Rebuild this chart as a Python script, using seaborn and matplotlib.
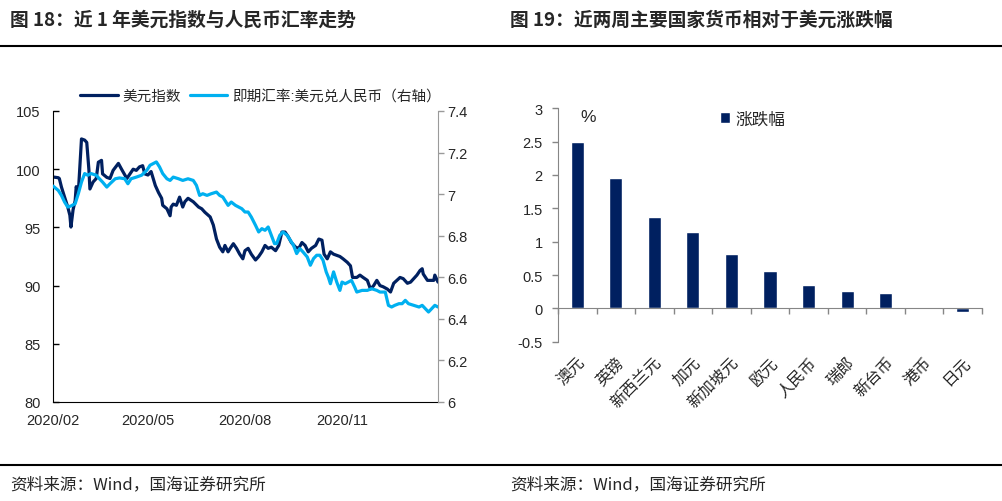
import numpy as np
import pandas as pd
import matplotlib
matplotlib.use("Agg")
import matplotlib.pyplot as plt
import matplotlib.dates as mdates
from matplotlib.lines import Line2D
from matplotlib.ticker import FuncFormatter, FixedLocator
import seaborn as sns

sns.set_style("white")
plt.rcParams['font.family'] = ['Liberation Sans', 'Noto Sans CJK SC', 'DejaVu Sans']
plt.rcParams['axes.unicode_minus'] = False

# --- left chart: DXY and USD/CNY spot ---
dxy_dates = ["2020-02-20", "2020-02-25", "2020-02-26", "2020-02-28", "2020-03-02", "2020-03-05", "2020-03-07", "2020-03-08", "2020-03-10", "2020-03-12",
             "2020-03-13", "2020-03-15", "2020-03-16", "2020-03-18", "2020-03-21", "2020-03-23", "2020-03-25", "2020-03-26", "2020-03-29", "2020-04-01",
             "2020-04-03", "2020-04-06", "2020-04-07", "2020-04-11", "2020-04-14", "2020-04-17", "2020-04-22", "2020-04-25", "2020-04-30", "2020-05-03",
             "2020-05-06", "2020-05-09", "2020-05-12", "2020-05-15", "2020-05-17", "2020-05-20", "2020-05-23", "2020-05-27", "2020-05-30", "2020-06-02",
             "2020-06-03", "2020-06-07", "2020-06-10", "2020-06-11", "2020-06-13", "2020-06-16", "2020-06-19", "2020-06-22", "2020-06-24", "2020-06-27",
             "2020-07-02", "2020-07-07", "2020-07-10", "2020-07-13", "2020-07-18", "2020-07-21", "2020-07-24", "2020-07-27", "2020-07-30", "2020-08-01",
             "2020-08-04", "2020-08-06", "2020-08-09", "2020-08-12", "2020-08-15", "2020-08-18", "2020-08-20", "2020-08-23", "2020-08-26", "2020-08-30",
             "2020-09-02", "2020-09-05", "2020-09-08", "2020-09-11", "2020-09-14", "2020-09-18", "2020-09-21", "2020-09-24", "2020-09-27", "2020-09-30",
             "2020-10-03", "2020-10-07", "2020-10-10", "2020-10-13", "2020-10-16", "2020-10-19", "2020-10-22", "2020-10-26", "2020-10-29", "2020-11-01",
             "2020-11-03", "2020-11-06", "2020-11-09", "2020-11-12", "2020-11-15", "2020-11-18", "2020-11-21", "2020-11-25", "2020-11-28", "2020-11-30",
             "2020-12-04", "2020-12-07", "2020-12-10", "2020-12-14", "2020-12-17", "2020-12-20", "2020-12-23", "2020-12-26", "2020-12-29", "2021-01-02",
             "2021-01-05", "2021-01-08", "2021-01-11", "2021-01-14", "2021-01-17", "2021-01-21", "2021-01-24", "2021-01-27", "2021-01-30", "2021-02-02",
             "2021-02-04", "2021-02-05", "2021-02-09", "2021-02-12", "2021-02-15", "2021-02-16", "2021-02-19"]
dxy_values = [99.33, 99.27, 99.2, 98.47, 97.6, 96.75, 96.04, 95.03, 96.5, 97.3,
              98.5, 98.0, 99.5, 102.6, 102.5, 102.3, 100.0, 98.3, 98.9, 99.2,
              100.6, 100.76, 99.6, 99.3, 99.2, 99.9, 100.5, 100.0, 99.2, 99.6,
              100.0, 99.9, 100.2, 100.3, 99.6, 99.5, 99.8, 98.6, 98.0, 97.5,
              96.9, 96.6, 96.0, 96.75, 97.0, 96.9, 97.6, 96.75, 97.2, 97.5,
              97.2, 96.75, 96.6, 96.3, 95.9, 95.2, 94.0, 93.3, 92.9, 93.45,
              92.9, 93.2, 93.6, 93.2, 92.7, 92.3, 93.0, 93.2, 92.7, 92.2,
              92.5, 92.9, 93.45, 93.2, 93.3, 93.0, 93.45, 94.6, 94.6, 94.2,
              93.7, 93.3, 93.2, 93.7, 93.45, 92.9, 93.2, 93.45, 94.0, 93.9,
              92.7, 92.3, 92.9, 92.7, 92.6, 92.5, 92.3, 92.0, 91.7, 90.7,
              90.7, 90.9, 90.7, 90.45, 89.7, 90.0, 90.45, 90.0, 89.9, 89.7,
              89.45, 90.2, 90.45, 90.7, 90.6, 90.2, 90.3, 90.6, 90.9, 91.3,
              91.45, 91.0, 90.45, 90.45, 90.45, 90.9, 90.3]

cny_dates = ["2020-02-20", "2020-02-25", "2020-02-28", "2020-03-02", "2020-03-05", "2020-03-08", "2020-03-12", "2020-03-15", "2020-03-18", "2020-03-21",
             "2020-03-24", "2020-03-27", "2020-04-01", "2020-04-04", "2020-04-07", "2020-04-11", "2020-04-14", "2020-04-19", "2020-04-23", "2020-04-28",
             "2020-05-01", "2020-05-04", "2020-05-09", "2020-05-14", "2020-05-19", "2020-05-22", "2020-05-25", "2020-05-28", "2020-05-31", "2020-06-03",
             "2020-06-07", "2020-06-10", "2020-06-13", "2020-06-18", "2020-06-22", "2020-06-27", "2020-07-02", "2020-07-05", "2020-07-08", "2020-07-11",
             "2020-07-15", "2020-07-19", "2020-07-24", "2020-07-27", "2020-07-30", "2020-08-04", "2020-08-07", "2020-08-11", "2020-08-14", "2020-08-17",
             "2020-08-20", "2020-08-23", "2020-08-26", "2020-08-30", "2020-09-02", "2020-09-05", "2020-09-08", "2020-09-11", "2020-09-14", "2020-09-17",
             "2020-09-19", "2020-09-22", "2020-09-25", "2020-09-29", "2020-10-02", "2020-10-05", "2020-10-08", "2020-10-11", "2020-10-14", "2020-10-18",
             "2020-10-21", "2020-10-24", "2020-10-27", "2020-10-30", "2020-11-02", "2020-11-05", "2020-11-07", "2020-11-09", "2020-11-12", "2020-11-15",
             "2020-11-18", "2020-11-20", "2020-11-23", "2020-11-26", "2020-11-29", "2020-12-02", "2020-12-04", "2020-12-09", "2020-12-14", "2020-12-18",
             "2020-12-23", "2020-12-26", "2020-12-31", "2021-01-03", "2021-01-06", "2021-01-09", "2021-01-13", "2021-01-16", "2021-01-19", "2021-01-22",
             "2021-01-27", "2021-02-01", "2021-02-04", "2021-02-07", "2021-02-10", "2021-02-13", "2021-02-16", "2021-02-19"]
cny_values = [7.039, 7.018, 6.994, 6.962, 6.938, 6.943, 6.954, 7.002, 7.058, 7.099,
              7.091, 7.099, 7.091, 7.074, 7.058, 7.034, 7.050, 7.074, 7.078, 7.074,
              7.050, 7.074, 7.082, 7.091, 7.115, 7.139, 7.147, 7.155, 7.131, 7.099,
              7.074, 7.066, 7.082, 7.074, 7.066, 7.074, 7.066, 7.042, 6.994, 7.002,
              6.994, 7.002, 7.010, 6.994, 6.986, 6.946, 6.962, 6.946, 6.938, 6.930,
              6.914, 6.914, 6.890, 6.850, 6.818, 6.834, 6.826, 6.842, 6.802, 6.762,
              6.762, 6.802, 6.818, 6.802, 6.778, 6.754, 6.714, 6.738, 6.722, 6.698,
              6.658, 6.690, 6.706, 6.706, 6.682, 6.626, 6.601, 6.569, 6.626, 6.577,
              6.537, 6.577, 6.569, 6.577, 6.585, 6.553, 6.529, 6.537, 6.537, 6.545,
              6.537, 6.529, 6.529, 6.465, 6.457, 6.465, 6.473, 6.473, 6.489, 6.473,
              6.465, 6.457, 6.465, 6.449, 6.433, 6.449, 6.465, 6.457]

date_ticks = ["2020-02-20", "2020-05-20", "2020-08-20", "2020-11-20"]

# --- right chart: currency change vs USD over two weeks (%) ---
currencies = ["澳元", "英镑", "新西兰元", "加元", "新加坡元", "欧元", "人民币", "瑞郎", "新台币", "港币", "日元"]
changes = [2.5, 1.95, 1.37, 1.14, 0.81, 0.565, 0.355, 0.255, 0.225, 0.003, -0.05]

NAVY = "#002060"
SKY = "#00B0F0"

dxy_df = pd.DataFrame({"date": pd.to_datetime(dxy_dates), "value": dxy_values})
cny_df = pd.DataFrame({"date": pd.to_datetime(cny_dates), "value": cny_values})
bar_df = pd.DataFrame({"currency": currencies, "change": changes})

fig = plt.figure(figsize=(10.02, 5.02), dpi=100)
W, H = 1002, 502

# ----------------- left chart -----------------
ax = fig.add_axes([53 / W, 1 - 403 / H, 385 / W, 291 / H])
ax2 = ax.twinx()
sns.lineplot(data=dxy_df, x="date", y="value", ax=ax, color=NAVY, linewidth=2.3, label="美元指数", legend=False)
sns.lineplot(data=cny_df, x="date", y="value", ax=ax2, color=SKY, linewidth=2.3, label="即期汇率:美元兑人民币（右轴）", legend=False)

ax.set_xlim(pd.Timestamp("2020-02-20"), pd.Timestamp("2021-02-19"))
ax.set_ylim(80, 105)
ax.set_yticks(np.arange(80, 106, 5))
ax2.set_ylim(6, 7.4)
ax2.yaxis.set_major_locator(FixedLocator(np.arange(6.0, 7.41, 0.2)))
ax2.yaxis.set_major_formatter(FuncFormatter(lambda v, p: "%g" % round(v, 1)))
ax.set_xticks(pd.to_datetime(date_ticks))
ax.xaxis.set_major_formatter(mdates.DateFormatter("%Y/%m"))
ax.set_xlabel("")
ax.set_ylabel("")
ax2.set_ylabel("")

for a in (ax, ax2):
    a.spines["top"].set_visible(False)
ax.spines["left"].set_color("black")
ax.spines["bottom"].set_color("black")
ax2.spines["left"].set_visible(False)
ax2.spines["bottom"].set_visible(False)
ax2.spines["right"].set_color("#9a9a9a")
ax.spines["right"].set_visible(False)
ax.tick_params(axis="y", direction="in", length=4, width=1, color="black", labelsize=10.5, pad=9)
ax.tick_params(axis="x", direction="in", length=4, width=1, color="black", labelsize=10.5, pad=8)
ax2.tick_params(axis="y", direction="out", length=4, width=1, color="#9a9a9a", labelsize=10.5, pad=3)

h1, l1 = ax.get_legend_handles_labels()
h2, l2 = ax2.get_legend_handles_labels()
leg = fig.legend(h1 + h2, l1 + l2, loc="center left", bbox_to_anchor=(80 / W, 1 - 97 / H),
                 ncol=2, frameon=False, fontsize=10.5, handlelength=2.6, handletextpad=0.3,
                 columnspacing=0.6, borderpad=0, borderaxespad=0)

# ----------------- right chart -----------------
bx = fig.add_axes([558 / W, 1 - 342.7 / H, 424 / W, 233.4 / H])
sns.barplot(data=bar_df, x="currency", y="change", ax=bx, color=NAVY, width=0.34,
            saturation=1, label="涨跌幅")
bx.set_xlim(-0.5, len(currencies) - 0.5)
bx.set_ylim(-0.5, 3)
bx.set_yticks(np.arange(-0.5, 3.01, 0.5))
bx.yaxis.set_major_formatter(FuncFormatter(lambda v, p: "%g" % round(v, 1)))
bx.set_xlabel("")
bx.set_ylabel("")
bx.spines["top"].set_visible(False)
bx.spines["right"].set_visible(False)
bx.spines["bottom"].set_position(("data", 0))
for s in ("left", "bottom"):
    bx.spines[s].set_color("#868686")
bx.tick_params(axis="y", direction="out", length=4, width=1, color="#868686", labelsize=10.5, pad=7, left=True)
bx.set_xticks(np.arange(-0.5, len(currencies), 1.0), minor=True)
bx.tick_params(axis="x", which="minor", direction="out", length=4, width=1, color="#868686", bottom=True)
bx.tick_params(axis="x", which="major", length=0, labelsize=11.5, pad=33)
plt.setp(bx.get_xticklabels(), rotation=45, ha="right", rotation_mode="anchor")
bx.text(0.071, 0.967, "%", transform=bx.transAxes, ha="center", va="center", fontsize=12.5)
bx.legend(loc="center left", bbox_to_anchor=(720 / W, 1 - 120 / H), bbox_transform=fig.transFigure,
          frameon=False, fontsize=12, handlelength=0.6, handleheight=0.6, handletextpad=0.3,
          borderpad=0, borderaxespad=0)

# ----------------- titles, rules, sources -----------------
title_font = ["Noto Sans CJK SC", "DejaVu Sans"]
fig.text(10 / W, 1 - 20 / H, "图 18：近 1 年美元指数与人民币汇率走势", fontsize=13.5,
         fontweight="bold", va="center", ha="left", family=title_font)
fig.text(510 / W, 1 - 20 / H, "图 19：近两周主要国家货币相对于美元涨跌幅", fontsize=13.5,
         fontweight="bold", va="center", ha="left", family=title_font)
fig.add_artist(Line2D([0, 1], [1 - 47 / H, 1 - 47 / H], transform=fig.transFigure, color="black", lw=1.5))
fig.add_artist(Line2D([0, 1], [1 - 466 / H, 1 - 466 / H], transform=fig.transFigure, color="black", lw=1.5))
fig.text(10 / W, 1 - 485 / H, "资料来源：Wind，国海证券研究所", fontsize=12, va="center", ha="left", family=title_font)
fig.text(510 / W, 1 - 485 / H, "资料来源：Wind，国海证券研究所", fontsize=12, va="center", ha="left", family=title_font)

fig.savefig("out.png", dpi=100)
